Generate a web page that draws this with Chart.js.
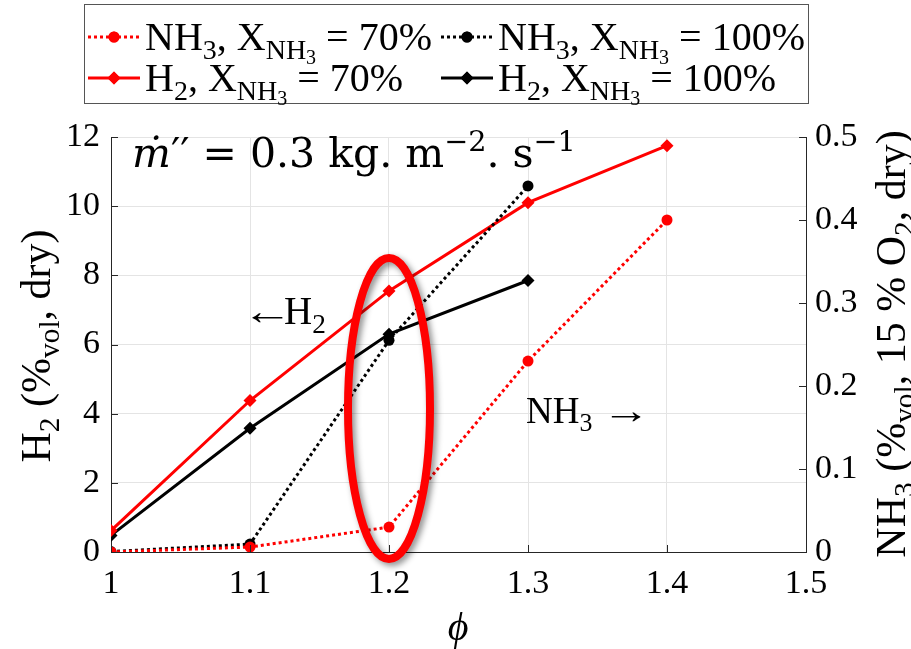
<!DOCTYPE html>
<html>
<head>
<meta charset="utf-8">
<script src="https://cdn.jsdelivr.net/npm/chart.js@4.4.0/dist/chart.umd.min.js"></script>
<style>
  html, body { margin: 0; background: #fff; }
</style>
</head>
<body>
<canvas id="chart" width="911" height="649"></canvas>
<script>
// equivalence ratio
const phi = [1.0, 1.1, 1.2, 1.3, 1.4];
// H2 (% vol, dry) -- left axis
const h2_70 = [0.62, 4.38, 7.55, 10.1, 11.75];
const h2_100 = [0.48, 3.58, 6.3, 7.85];
// NH3 (% vol, 15 % O2, dry) -- right axis
const nh3_70 = [0.0, 0.006, 0.030, 0.230, 0.400];
const nh3_100 = [0.0005, 0.0095, 0.255, 0.441];

const xTicks = [1, 1.1, 1.2, 1.3, 1.4, 1.5];
const h2Ticks = [0, 2, 4, 6, 8, 10, 12];
const nh3Ticks = [0, 0.1, 0.2, 0.3, 0.4, 0.5];

const RED = '#ff0000';
const BLACK = '#000000';
const AXIS = '#262626';
const SERIF = '"Liberation Serif", "DejaVu Serif", serif';
const WIDE = '"DejaVu Serif", serif';

// highlight around phi = 1.2 (data units)
const ring = { x: 1.2, y: 4.15, rx: 0.0295, ry: 4.35 };

function pts(xs, ys) {
  return ys.map((v, i) => ({ x: xs[i], y: v }));
}

// text with sub/superscripts, parts: 'txt' or [txt, kind]
function rich(ctx, parts, x, y, size, draw, family = SERIF) {
  let cx = x;
  for (const p of parts) {
    const [txt, kind] = typeof p === 'string' ? [p, 'n'] : p;
    let s = size, dy = 0, style = '';
    if (kind === 'sub') { s = size * 0.7; dy = size * 0.22; }
    if (kind === 'subsub') { s = size * 0.5; dy = size * 0.36; }
    if (kind === 'sup') { s = size * 0.7; dy = -size * 0.4; }
    if (kind === 'it') style = 'italic ';
    ctx.font = style + s + 'px ' + family;
    if (kind === 'arrow') {
      // thin serif arrow, stretched to a longer shaft
      const k = 1.3;
      if (draw) {
        ctx.save();
        ctx.translate(cx, y);
        ctx.scale(k, 1);
        ctx.fillText(txt, 0, 0);
        ctx.restore();
      }
      cx += ctx.measureText(txt).width * k - size * 0.22;
      continue;
    }
    if (draw) ctx.fillText(txt, cx, y + dy);
    cx += ctx.measureText(txt).width;
  }
  return cx - x;
}

const legendItems = [
  { parts: ['NH', ['3', 'sub'], ', X', ['NH', 'sub'], ['3', 'subsub'], ' = 70%'], color: RED, dash: [3, 3], style: 'circle', r: 5.5, lx: 88, ly: 37 },
  { parts: ['NH', ['3', 'sub'], ', X', ['NH', 'sub'], ['3', 'subsub'], ' = 100%'], color: BLACK, dash: [3, 3], style: 'circle', r: 5.5, lx: 441, ly: 37 },
  { parts: ['H', ['2', 'sub'], ', X', ['NH', 'sub'], ['3', 'subsub'], ' = 70%'], color: RED, dash: [], style: 'rectRot', r: 6.5, lx: 88, ly: 78 },
  { parts: ['H', ['2', 'sub'], ', X', ['NH', 'sub'], ['3', 'subsub'], ' = 100%'], color: BLACK, dash: [], style: 'rectRot', r: 6.5, lx: 441, ly: 78 },
];

const decorations = {
  id: 'decorations',
  afterDatasetsDraw(chart) {
    const { ctx, chartArea: a, scales } = chart;
    const sx = scales.x, sy = scales.y, sy1 = scales.y1;

    // inward tick marks
    ctx.save();
    ctx.strokeStyle = AXIS;
    ctx.lineWidth = 1;
    ctx.beginPath();
    for (const v of h2Ticks) {
      const p = Math.round(sy.getPixelForValue(v)) + 0.5;
      ctx.moveTo(a.left, p); ctx.lineTo(a.left + 7, p);
    }
    for (const v of nh3Ticks) {
      const p = Math.round(sy1.getPixelForValue(v)) + 0.5;
      ctx.moveTo(a.right, p); ctx.lineTo(a.right - 7, p);
    }
    for (const v of xTicks) {
      const p = Math.round(sx.getPixelForValue(v)) + 0.5;
      ctx.moveTo(p, a.bottom); ctx.lineTo(p, a.bottom - 7);
    }
    ctx.stroke();
    ctx.restore();

    // ellipse around phi = 1.2
    ctx.save();
    const cx = sx.getPixelForValue(ring.x);
    const cy = sy.getPixelForValue(ring.y);
    const rx = Math.abs(sx.getPixelForValue(ring.x + ring.rx) - cx);
    const ry = Math.abs(sy.getPixelForValue(ring.y + ring.ry) - cy);
    ctx.shadowColor = 'rgba(0,0,0,0.45)';
    ctx.shadowBlur = 6;
    ctx.shadowOffsetX = 3;
    ctx.shadowOffsetY = 3;
    ctx.strokeStyle = RED;
    ctx.lineWidth = 8;
    ctx.beginPath();
    ctx.ellipse(cx, cy, rx, ry, 0, 0, Math.PI * 2);
    ctx.stroke();
    ctx.restore();

    ctx.save();
    ctx.fillStyle = BLACK;
    ctx.textBaseline = 'alphabetic';
    ctx.textAlign = 'left';

    // mass flux label
    rich(ctx, [['ṁ', 'it'], '′′ = 0.3 kg. m', ['−2', 'sup'], '. s', ['−1', 'sup']], 132, 167, 41, true, WIDE);

    // series hints
    rich(ctx, [['←', 'arrow'], 'H', ['2', 'sub']], 242, 324, 39, true);
    rich(ctx, ['NH', ['3', 'sub'], ' ', ['→', 'arrow']], 526, 423, 37, true);

    // x title
    ctx.font = 'italic 40px ' + SERIF;
    ctx.textAlign = 'center';
    ctx.fillText('ϕ', 458, 640);
    ctx.textAlign = 'left';

    // left title
    const lp = ['H', ['2', 'sub'], ' (%', ['vol', 'sub'], ', dry)'];
    ctx.save();
    ctx.translate(50, 346);
    ctx.rotate(-Math.PI / 2);
    const lw = rich(ctx, lp, 0, 0, 42, false);
    rich(ctx, lp, -lw / 2, 0, 42, true);
    ctx.restore();

    // right title
    const rp = ['NH', ['3', 'sub'], ' (%', ['vol', 'sub'], ', 15 % O', ['2', 'sub'], ', dry)'];
    ctx.save();
    ctx.translate(905, 344);
    ctx.rotate(-Math.PI / 2);
    const rw = rich(ctx, rp, 0, 0, 42, false);
    rich(ctx, rp, -rw / 2, 0, 42, true);
    ctx.restore();

    // legend box
    ctx.strokeStyle = '#555';
    ctx.lineWidth = 1;
    ctx.strokeRect(84.5, 4.5, 724, 99);
    for (const it of legendItems) {
      ctx.save();
      ctx.strokeStyle = it.color;
      ctx.fillStyle = it.color;
      ctx.lineWidth = 3;
      ctx.setLineDash(it.dash);
      ctx.beginPath();
      ctx.moveTo(it.lx, it.ly);
      ctx.lineTo(it.lx + 52, it.ly);
      ctx.stroke();
      ctx.setLineDash([]);
      Chart.helpers.drawPoint(ctx, { pointStyle: it.style, radius: it.r, rotation: 0, borderWidth: 0 }, it.lx + 26, it.ly);
      ctx.fill();
      ctx.restore();
      ctx.fillStyle = BLACK;
      rich(ctx, it.parts, it.lx + 57, it.ly + 13, 40, true);
    }
    ctx.restore();
  }
};

const fixedSize = (w, h) => (scale) => {
  if (w) scale.width = w;
  if (h) scale.height = h;
};

function series(label, xs, ys, axis, color, dotted) {
  return {
    label,
    data: pts(xs, ys),
    yAxisID: axis,
    borderColor: color,
    backgroundColor: color,
    borderWidth: 3,
    borderDash: dotted ? [3, 3] : [],
    pointStyle: dotted ? 'circle' : 'rectRot',
    pointRadius: dotted ? 5.5 : 6.5,
    pointBorderWidth: 0,
    pointBackgroundColor: color,
    tension: 0,
    clip: 0,
  };
}

new Chart(document.getElementById('chart'), {
  type: 'line',
  data: {
    datasets: [
      series('NH3, X=70%', phi, nh3_70, 'y1', RED, true),
      series('NH3, X=100%', phi, nh3_100, 'y1', BLACK, true),
      series('H2, X=70%', phi, h2_70, 'y', RED, false),
      series('H2, X=100%', phi, h2_100, 'y', BLACK, false),
    ],
  },
  options: {
    responsive: false,
    animation: false,
    devicePixelRatio: 1,
    layout: { padding: { top: 137, left: 0, right: 0, bottom: 0 } },
    plugins: { legend: { display: false }, tooltip: { enabled: false } },
    scales: {
      x: {
        type: 'linear',
        min: 1,
        max: 1.5,
        afterFit: fixedSize(null, 97),
        afterBuildTicks: (s) => { s.ticks = xTicks.map((v) => ({ value: v })); },
        ticks: {
          color: BLACK,
          padding: 12,
          font: { family: SERIF, size: 34 },
          callback: (v) => String(+v.toFixed(1)),
        },
        grid: { color: '#e4e4e4', drawTicks: false },
        border: { color: AXIS },
      },
      y: {
        position: 'left',
        min: 0,
        max: 12,
        afterFit: fixedSize(111, null),
        afterBuildTicks: (s) => { s.ticks = h2Ticks.map((v) => ({ value: v })); },
        ticks: { color: BLACK, padding: 11, font: { family: SERIF, size: 34 } },
        grid: { color: '#e4e4e4', drawTicks: false },
        border: { color: AXIS },
      },
      y1: {
        position: 'right',
        min: 0,
        max: 0.5,
        afterFit: fixedSize(105, null),
        afterBuildTicks: (s) => { s.ticks = nh3Ticks.map((v) => ({ value: v })); },
        ticks: {
          color: BLACK,
          padding: 9,
          font: { family: SERIF, size: 34 },
          callback: (v) => String(+v.toFixed(1)),
        },
        grid: { display: false, drawTicks: false },
        border: { color: AXIS },
      },
    },
  },
  plugins: [decorations],
});
</script>
</body>
</html>
